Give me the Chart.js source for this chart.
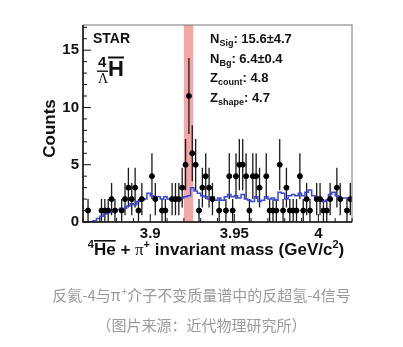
<!DOCTYPE html>
<html lang="zh">
<head>
<meta charset="UTF-8">
<script src="https://cdn.jsdelivr.net/npm/chart.js"></script>
<title>anti-hyperhydrogen-4 signal</title>
<style>
  body { margin: 0; background: #fff; }
  #wrap { position: relative; width: 403px; height: 347px; }
  .caption {
    position: absolute; left: 0; width: 403px; text-align: center;
    font-family: "Noto Sans CJK SC", sans-serif; font-size: 15px; color: #9a9a9a;
  }
  .caption sup { font-size: 10px; margin-left: 1px; }
</style>
</head>
<body>
<div id="wrap">
  <canvas id="chart" width="403" height="347"></canvas>
  <div class="caption" style="top:283px">反氦-4与π<sup>+</sup>介子不变质量谱中的反超氢-4信号</div>
  <div class="caption" style="top:314px">（图片来源：近代物理研究所）</div>
</div>
<script>
// binning of the invariant mass histogram
const massMin = 3.86;
const massMax = 4.02;
const binWidth = 0.002;

// counts per bin (data points)
const counts = [
  0, 1, 0, 0, 0, 1, 1, 1, 2, 1,
  0, 1, 2, 3, 2, 3, 1, 2, 0, 0,
  4, 2, 0, 1, 1, 0, 2, 2, 2, 3,
  5, 11, 6, 5, 1, 3, 4, 3, 2, 0,
  1, 0, 1, 4, 1, 4, 5, 5, 4, 1,
  4, 4, 3, 0, 4, 1, 1, 1, 5, 1,
  3, 1, 1, 1, 4, 1, 2, 1, 0, 2,
  2, 1, 1, 2, 0, 3, 2, 0, 1, 2
];

// estimated background per bin (blue histogram)
const background = [
  0, 0, 0, 0, 0.1, 0.3, 0.5, 0.7, 0.8, 0.9,
  1.0, 1.1, 1.2, 1.2, 1.4, 1.6, 1.5, 1.8, 1.9, 2.0,
  2.5, 2.3, 2.2, 2.2, 2.0, 2.2, 2.0, 2.1, 2.0, 2.1,
  2.1, 2.2, 2.3, 3.0, 2.7, 2.5, 2.3, 2.2, 2.0, 2.2,
  1.9, 2.1, 1.9, 2.2, 2.4, 2.2, 2.3, 2.1, 2.4, 2.0,
  1.9, 1.8, 2.2, 1.8, 1.9, 2.2, 2.0, 2.1, 1.9, 2.6,
  2.5, 2.0, 2.3, 2.4, 2.3, 2.5, 2.3, 2.6, 2.8, 2.3,
  2.1, 2.0, 1.8, 1.9, 2.4, 2.6, 2.3, 2.1, 2.1, 2.1
];

// signal window
const signalWindow = [3.920, 3.9256];

const xTicks = [3.9, 3.95, 4];
const yTicks = [0, 5, 10, 15];
const yMax = 17.2;

const statLines = [
  { main: 'N', sub: 'Sig', value: ': 15.6±4.7' },
  { main: 'N', sub: 'Bg', value: ': 6.4±0.4' },
  { main: 'Z', sub: 'count', value: ': 4.8' },
  { main: 'Z', sub: 'shape', value: ': 4.7' }
];

const SANS = '"Liberation Sans", Arial, sans-serif';
const SERIF = '"Liberation Serif", "DejaVu Serif", serif';
const INK = '#111';

// build point data (skip empty bins) and step histogram data
const pointData = [];
counts.forEach((c, i) => {
  if (c > 0) pointData.push({ x: massMin + (i + 0.5) * binWidth, y: c });
});
const stepData = background.map((b, i) => ({ x: massMin + i * binWidth, y: b }));
stepData.push({ x: massMax, y: background[background.length - 1] });

// draws a list of text pieces left to right, returns end x
function drawPieces(ctx, x, y, pieces) {
  pieces.forEach(p => {
    ctx.font = p.font;
    const w = ctx.measureText(p.t).width;
    ctx.fillText(p.t, x, y + (p.dy || 0));
    if (p.over) {
      ctx.fillRect(x, y + (p.dy || 0) - p.over, w, 1.6);
    }
    x += w + (p.gap || 0);
  });
  return x;
}
function piecesWidth(ctx, pieces) {
  let w = 0;
  pieces.forEach(p => { ctx.font = p.font; w += ctx.measureText(p.t).width + (p.gap || 0); });
  return w;
}

const decorations = {
  id: 'decorations',
  beforeDatasetsDraw(chart) {
    const { ctx, chartArea: a, scales: { x, y } } = chart;
    ctx.save();
    // signal window band
    const x0 = x.getPixelForValue(signalWindow[0]);
    const x1 = x.getPixelForValue(signalWindow[1]);
    ctx.fillStyle = '#f3a8a6';
    ctx.fillRect(x0, a.top, x1 - x0, a.bottom - a.top);

    // error bars of the counts
    ctx.strokeStyle = '#1a1a1a';
    ctx.lineWidth = 1.3;
    ctx.beginPath();
    counts.forEach((c, i) => {
      if (c <= 0) return;
      const err = Math.sqrt(c);
      const cx = x.getPixelForValue(massMin + (i + 0.5) * binWidth);
      ctx.moveTo(cx, y.getPixelForValue(Math.max(c - err, 0)));
      ctx.lineTo(cx, Math.max(y.getPixelForValue(c + err), a.top));
      const yy = y.getPixelForValue(c);
      ctx.moveTo(x.getPixelForValue(massMin + i * binWidth), yy);
      ctx.lineTo(x.getPixelForValue(massMin + (i + 1) * binWidth), yy);
    });
    ctx.stroke();
    ctx.restore();
  },
  afterDraw(chart) {
    const { ctx, chartArea: a, scales: { x, y } } = chart;
    ctx.save();

    // frame
    ctx.strokeStyle = '#777';
    ctx.lineWidth = 1;
    ctx.strokeRect(a.left, a.top, a.right - a.left, a.bottom - a.top);
    ctx.strokeStyle = '#111';
    ctx.lineWidth = 1.5;
    ctx.beginPath();
    ctx.moveTo(a.left, a.top);
    ctx.lineTo(a.left, a.bottom);
    ctx.lineTo(a.right, a.bottom);
    ctx.stroke();

    // inward ticks
    ctx.lineWidth = 1;
    ctx.beginPath();
    for (let k = 0; k <= Math.floor(yMax); k++) {
      const py = y.getPixelForValue(k);
      const len = k % 5 === 0 ? 8 : 4;
      ctx.moveTo(a.left, py);
      ctx.lineTo(a.left + len, py);
    }
    for (let k = 0; k <= 16; k++) {
      const v = massMin + k * 0.01;
      const px = x.getPixelForValue(v);
      const len = Math.abs(v * 20 - Math.round(v * 20)) < 1e-6 ? 8 : 4;
      ctx.moveTo(px, a.bottom);
      ctx.lineTo(px, a.bottom - len);
    }
    ctx.stroke();

    ctx.fillStyle = INK;
    ctx.textAlign = 'left';
    ctx.textBaseline = 'alphabetic';

    // experiment label and nucleus symbol
    ctx.font = 'bold 14px ' + SANS;
    ctx.fillText('STAR', 93, 43);
    ctx.font = 'bold 15px ' + SANS;
    ctx.fillText('4', 98, 67);
    ctx.font = '14px ' + SERIF;
    ctx.fillText('Λ', 98, 83);
    ctx.fillRect(97, 70.5, 11, 1.4);
    ctx.font = 'bold 22px ' + SANS;
    ctx.fillText('H', 108, 76);
    ctx.fillRect(108, 56.5, 16, 2);

    // fit results
    statLines.forEach((s, i) => {
      drawPieces(ctx, 210, 43 + i * 19.5, [
        { t: s.main, font: 'bold 13px ' + SANS },
        { t: s.sub, font: 'bold 9px ' + SANS, dy: 3 },
        { t: s.value, font: 'bold 13px ' + SANS }
      ]);
    });

    // y axis title
    ctx.save();
    ctx.translate(55, (a.top + a.bottom) / 2 + 5);
    ctx.rotate(-Math.PI / 2);
    ctx.textAlign = 'center';
    ctx.font = 'bold 17px ' + SANS;
    ctx.fillText('Counts', 0, 0);
    ctx.restore();

    // x axis title
    const title = [
      { t: '4', font: 'bold 11px ' + SANS, dy: -7 },
      { t: 'He', font: 'bold 17px ' + SANS, over: 15 },
      { t: ' + ', font: 'bold 17px ' + SANS },
      { t: 'π', font: '17px ' + SERIF },
      { t: '+', font: 'bold 11px ' + SANS, dy: -7 },
      { t: ' invariant mass (GeV/c', font: 'bold 17px ' + SANS },
      { t: '2', font: 'bold 11px ' + SANS, dy: -7 },
      { t: ')', font: 'bold 17px ' + SANS }
    ];
    const tw = piecesWidth(ctx, title);
    drawPieces(ctx, 216 - tw / 2, 255, title);

    ctx.restore();
  }
};

new Chart(document.getElementById('chart'), {
  type: 'scatter',
  data: {
    datasets: [
      {
        label: 'data',
        data: pointData,
        backgroundColor: '#000',
        borderColor: '#000',
        pointRadius: 2.5,
        pointHoverRadius: 2.5,
        order: 0
      },
      {
        label: 'background',
        type: 'line',
        data: stepData,
        stepped: 'after',
        borderColor: '#3446e4',
        borderWidth: 1.5,
        pointRadius: 0,
        fill: false,
        order: 1
      }
    ]
  },
  options: {
    responsive: false,
    animation: false,
    devicePixelRatio: 1,
    layout: { padding: { left: 57, top: 25, right: 51, bottom: 103 } },
    plugins: { legend: { display: false }, tooltip: { enabled: false } },
    scales: {
      x: {
        type: 'linear',
        min: massMin,
        max: massMax,
        grid: { display: false, drawTicks: false },
        border: { display: false },
        afterBuildTicks: s => { s.ticks = xTicks.map(v => ({ value: v })); },
        afterFit: s => { s.height = 22; },
        ticks: {
          padding: 3,
          maxRotation: 0,
          color: INK,
          font: { family: SANS, size: 15, weight: 'bold' },
          callback: v => String(v)
        }
      },
      y: {
        min: 0,
        max: yMax,
        grid: { display: false, drawTicks: false },
        border: { display: false },
        afterBuildTicks: s => { s.ticks = yTicks.map(v => ({ value: v })); },
        afterFit: s => { s.width = 26; },
        ticks: {
          padding: 4,
          color: INK,
          font: { family: SANS, size: 15, weight: 'bold' }
        }
      }
    }
  },
  plugins: [decorations]
});
</script>
</body>
</html>
